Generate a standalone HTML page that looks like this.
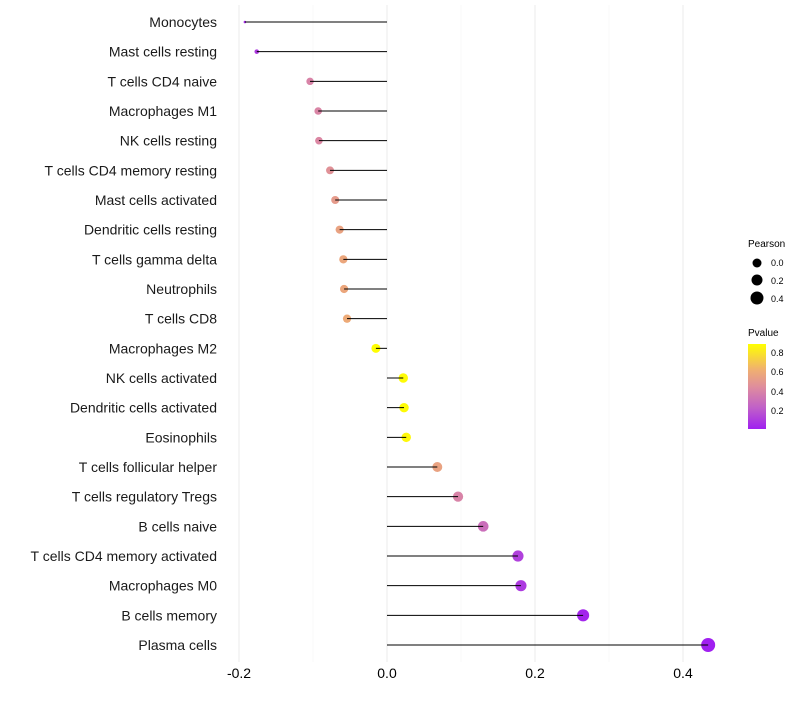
<!DOCTYPE html>
<html><head><meta charset="utf-8"><style>
body{margin:0;background:#fff;font-family:"Liberation Sans",sans-serif}
</style></head><body>
<svg id="chart" width="800" height="700" xmlns="http://www.w3.org/2000/svg">
<defs><linearGradient id="pg" x1="0" y1="1" x2="0" y2="0">
<stop offset="0" stop-color="#A020F0"/><stop offset="0.25" stop-color="#C060C8"/><stop offset="0.48" stop-color="#DD8AA0"/><stop offset="0.7" stop-color="#F0B070"/><stop offset="1" stop-color="#FFFF00"/></linearGradient></defs>
<g id="grid"></g><g id="dots"></g><g id="stems"></g><g id="labels"></g>
<g font-size="10" fill="#000">
<text x="748" y="247">Pearson</text>
<circle cx="757" cy="263" r="4.5"/><text x="771" y="266" font-size="9">0.0</text>
<circle cx="757" cy="280" r="5.5"/><text x="771" y="284" font-size="9">0.2</text>
<circle cx="757" cy="298" r="6.5"/><text x="771" y="302" font-size="9">0.4</text>
<text x="748" y="336">Pvalue</text>
<rect x="748" y="344" width="18" height="85" fill="url(#pg)"/>
<text x="771" y="356" font-size="9">0.8</text><text x="771" y="375" font-size="9">0.6</text>
<text x="771" y="395" font-size="9">0.4</text><text x="771" y="414" font-size="9">0.2</text>
</g>
</svg>
<script>
const categories=["Monocytes","Mast cells resting","T cells CD4 naive","Macrophages M1","NK cells resting","T cells CD4 memory resting","Mast cells activated","Dendritic cells resting","T cells gamma delta","Neutrophils","T cells CD8","Macrophages M2","NK cells activated","Dendritic cells activated","Eosinophils","T cells follicular helper","T cells regulatory  Tregs ","B cells naive","T cells CD4 memory activated","Macrophages M0","B cells memory","Plasma cells"];
const pearson=[-0.192,-0.176,-0.104,-0.093,-0.092,-0.077,-0.070,-0.064,-0.059,-0.058,-0.054,-0.015,0.022,0.023,0.026,0.068,0.096,0.130,0.177,0.181,0.265,0.434];
const pvalues=[0.05,0.1,0.4,0.41,0.42,0.47,0.52,0.56,0.58,0.58,0.6,0.89,0.88,0.88,0.87,0.56,0.4,0.3,0.12,0.1,0.03,0.01];
const xTicks=[-0.2,0,0.2,0.4];
const xTickLabels=["-0.2","0.0","0.2","0.4"];
const NS="http://www.w3.org/2000/svg";
const x=v=>387+v*740;
const y=i=>22+i*29.667;
function mk(t,a,p){const e=document.createElementNS(NS,t);for(const k in a)e.setAttribute(k,a[k]);p.appendChild(e);return e;}
const stops=[[0,[160,32,240]],[0.25,[192,96,200]],[0.48,[221,138,160]],[0.7,[240,176,112]],[1,[255,255,0]]];
function col(p){let t=(p-0.01)/(0.895-0.01);t=Math.max(0,Math.min(1,t));for(let i=1;i<stops.length;i++){if(t<=stops[i][0]){const a=stops[i-1],b=stops[i],f=(t-a[0])/(b[0]-a[0]);return"rgb("+a[1].map((c,j)=>Math.round(c+(b[1][j]-c)*f)).join(",")+")";}}return"rgb(255,255,0)";}
const sizeKnots=[[-0.192,1.3],[-0.176,2.3],[-0.104,3.7],[-0.015,4.5],[0.434,7]];
function rad(v){if(v<=sizeKnots[0][0])return sizeKnots[0][1];for(let i=1;i<sizeKnots.length;i++){if(v<=sizeKnots[i][0]){const a=sizeKnots[i-1],b=sizeKnots[i];return a[1]+(b[1]-a[1])*(v-a[0])/(b[0]-a[0]);}}return 7;}
const g=document.getElementById("grid"),d=document.getElementById("dots"),s=document.getElementById("stems"),l=document.getElementById("labels");
[-0.1,0.1,0.3].forEach(v=>{const e=mk("line",{x1:x(v),x2:x(v),y1:5,y2:662,stroke:"#f3f3f3","stroke-width":0.6},g);

});
xTicks.forEach((v,i)=>{const e=mk("line",{x1:x(v),x2:x(v),y1:5,y2:662,stroke:"#ebebeb","stroke-width":1},g);


const t=mk("text",{x:x(v),y:678,"text-anchor":"middle","font-size":14,fill:"#000"},l);t.textContent=xTickLabels[i];

});
categories.forEach((c,i)=>{const t=mk("text",{x:217,y:y(i)+5,"text-anchor":"end","font-size":14,fill:"#1a1a1a"},l);t.textContent=c;


const ci=mk("circle",{cx:x(pearson[i]),cy:y(i),r:rad(pearson[i]),fill:col(pvalues[i])},d);


const ln=mk("line",{x1:x(0),x2:x(pearson[i]),y1:y(i),y2:y(i),stroke:"#000","stroke-width":1},s);

});
</script>
</body></html>
